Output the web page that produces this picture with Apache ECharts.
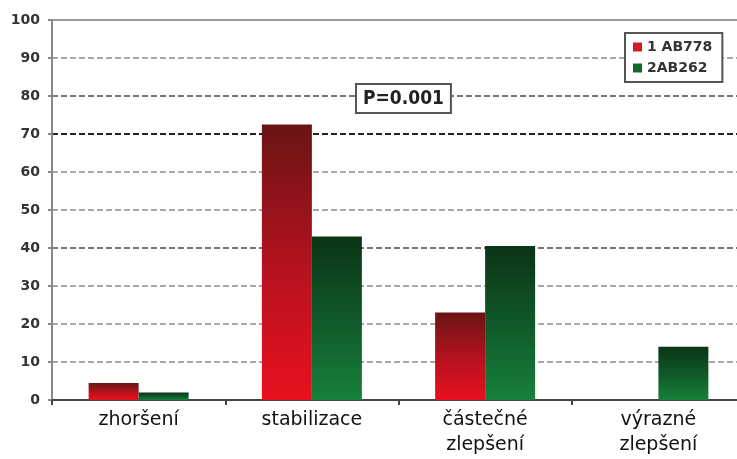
<!DOCTYPE html>
<html><head><meta charset="utf-8">
<script src="https://cdn.jsdelivr.net/npm/echarts@6/dist/echarts.min.js"></script>
<style>html,body{margin:0;padding:0;background:#fff}#c{width:737px;height:459px}</style>
</head><body><div id="c"></div>
<script>
const categories = ['zhoršení', 'stabilizace', 'částečné\nzlepšení', 'výrazné\nzlepšení'];
const seriesNames = ['1 AB778', '2AB262'];
const valuesAB778 = [4.5, 72.5, 23, 0];
const valuesAB262 = [2, 43, 40.5, 14];
const yTicks = [0, 10, 20, 30, 40, 50, 60, 70, 80, 90, 100];
const pValueText = 'P=0.001';

const chart = echarts.init(document.getElementById('c'), null, {renderer: 'canvas'});
const redGrad = new echarts.graphic.LinearGradient(0, 0, 0, 1, [
  {offset: 0, color: '#6a1414'}, {offset: 0.55, color: '#b8121f'}, {offset: 1, color: '#e8101e'}]);
const greenGrad = new echarts.graphic.LinearGradient(0, 0, 0, 1, [
  {offset: 0, color: '#0b3416'}, {offset: 0.5, color: '#10582a'}, {offset: 1, color: '#17803a'}]);
const gridColors = yTicks.map(v => v === 70 ? '#222' : (v === 80 || v === 40 ? '#777' : '#a8a8a8'));
const font = '"DejaVu Sans", sans-serif';

chart.setOption({
  animation: false,
  backgroundColor: '#fff',
  grid: {left: 52, width: 693, top: 20, bottom: 59, containLabel: false, outerBoundsMode: 'none'},
  legend: {
    orient: 'vertical', left: 625, top: 33,
    itemWidth: 9, itemHeight: 9, itemGap: 7,
    padding: [7, 10, 7, 8],
    borderColor: '#555', borderWidth: 2, backgroundColor: '#fff',
    textStyle: {fontFamily: font, fontWeight: 'bold', fontSize: 14, color: '#333'},
    data: [
      {name: seriesNames[0], icon: 'rect', itemStyle: {color: '#d41a24'}},
      {name: seriesNames[1], icon: 'rect', itemStyle: {color: '#0e6a2c'}}
    ]
  },
  xAxis: [{
    type: 'category', data: categories, position: 'bottom',
    axisLine: {lineStyle: {color: '#444', width: 2}},
    axisTick: {show: true, length: 5, lineStyle: {color: '#444', width: 2}},
    axisLabel: {fontFamily: font, fontSize: 19, color: '#111', lineHeight: 25, margin: 8},
    splitLine: {show: false}
  }, {
    type: 'category', data: categories, position: 'top',
    axisLine: {show: true, lineStyle: {color: '#999', width: 2}},
    axisTick: {show: false}, axisLabel: {show: false}
  }],
  yAxis: {
    type: 'value', min: 0, max: 100, interval: 10,
    axisLine: {show: true, lineStyle: {color: '#888', width: 2}},
    axisTick: {show: true, length: 4, lineStyle: {color: '#888', width: 2}},
    axisLabel: {fontFamily: font, fontWeight: 'bold', fontSize: 14, color: '#333', margin: 12},
    splitLine: {show: true, lineStyle: {type: [6, 3], width: 2, color: gridColors}}
  },
  series: [
    {name: seriesNames[0], type: 'bar', data: valuesAB778, barWidth: 50, barGap: '0%',
     itemStyle: {color: redGrad}},
    {name: seriesNames[1], type: 'bar', data: valuesAB262, barWidth: 50, barGap: '0%',
     itemStyle: {color: greenGrad}}
  ],
  graphic: [{
    type: 'text', left: 355, top: 83, z: 100,
    style: {
      text: pValueText, fontFamily: '"DejaVu Sans Condensed", "Liberation Sans Narrow", sans-serif',
      fontWeight: 'bold', fontSize: 19, fill: '#222',
      backgroundColor: '#fff', borderColor: '#555', borderWidth: 2, padding: [5, 6, 3, 6]
    }
  }]
});
</script></body></html>
